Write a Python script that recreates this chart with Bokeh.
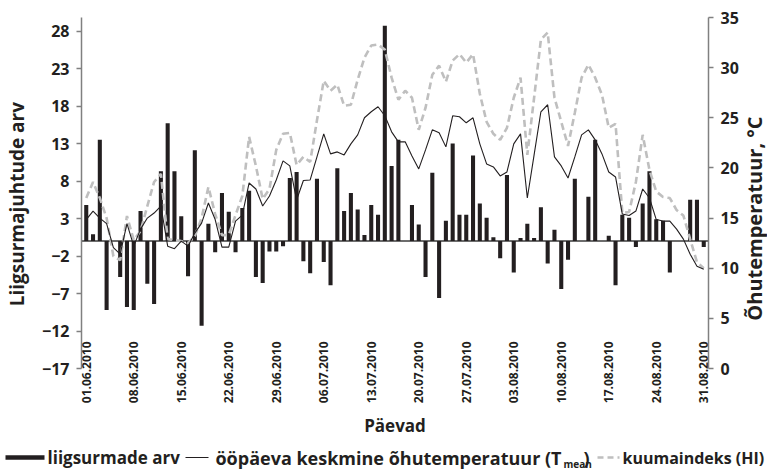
import math
import pandas as pd
from bokeh.plotting import figure
from bokeh.models import Range1d, LinearAxis, FixedTicker, Span
from bokeh.layouts import column, row
from bokeh.embed import file_html
from bokeh.resources import INLINE
from bokeh.core.properties import value

# ---------------- data ----------------
days = [d.strftime("%d.%m.%Y") for d in pd.date_range("2010-06-01", "2010-08-31", freq="D")]

excess_deaths = [
    4.8, 0.9, 13.5, -9.2, 0.0, -4.8, -8.8, -9.2, 4.0, -5.7,
    -8.4, 9.3, 15.7, 9.3, 3.3, -4.7, 12.1, -11.3, 2.3, -1.5,
    6.4, 3.9, -1.5, 4.4, 6.7, -4.8, -5.6, -1.4, -1.4, -0.7,
    8.4, 9.2, -2.7, -4.3, 8.3, -2.8, -5.9, 9.7, 4.0, 6.4,
    4.2, 0.8, 4.8, 3.5, 28.7, 10.0, 13.5, 0.0, 4.8, 2.2,
    -4.8, 9.1, -7.6, 2.7, 13.0, 3.5, 3.5, 11.4, 5.0, 3.1,
    0.5, -2.3, 8.8, -4.2, 0.4, 2.3, 0.4, 4.5, -3.0, 1.5,
    -6.4, -2.5, 8.3, 0.0, 5.9, 13.5, 0.0, 0.7, -5.9, 3.5,
    3.1, -0.8, 5.0, 9.3, 2.9, 2.7, -4.2, 0.0, 0.0, 5.5,
    5.5, -0.8,
]

t_mean = [
    14.85, 15.7, 15.0, 14.45, 12.05, 11.4, 14.45, 12.2, 13.9, 15.0,
    15.5, 16.2, 12.2, 11.95, 12.7, 12.2, 13.5, 14.5, 16.5, 14.85,
    12.1, 12.1, 14.7, 15.3, 18.5, 17.9, 16.2, 17.2, 18.8, 20.7,
    20.2, 16.8, 18.75, 18.8, 21.1, 23.4, 21.4, 21.6, 21.3, 22.4,
    23.3, 25.0, 25.6, 26.1, 25.2, 23.6, 22.6, 22.6, 21.2, 19.9,
    21.8, 23.8, 23.5, 22.1, 25.2, 25.1, 24.5, 25.0, 22.4, 20.4,
    20.1, 19.2, 19.6, 22.4, 23.4, 17.0, 21.3, 25.6, 26.3, 21.1,
    20.2, 19.0, 21.1, 23.3, 23.8, 22.8, 21.4, 19.6, 19.1, 15.4,
    15.25, 15.7, 17.9, 17.0, 14.85, 14.7, 14.7, 13.9, 12.9, 11.4,
    10.2, 9.9,
]

heat_index = [
    17.0, 18.6, 17.0, 15.0, 11.2, 10.8, 15.2, 12.8, 13.7, 16.2,
    18.6, 19.4, 12.9, 12.8, 12.7, 12.5, 13.2, 15.0, 18.1, 15.4,
    13.3, 13.3, 15.3, 17.2, 23.1, 20.2, 16.9, 17.9, 21.8, 23.4,
    23.5, 20.3, 21.1, 20.6, 24.75, 28.7, 27.7, 28.3, 26.2, 26.3,
    28.8, 31.0, 32.2, 32.3, 31.8, 29.0, 26.8, 27.7, 27.0, 23.8,
    26.0, 29.3, 30.2, 28.6, 30.7, 31.35, 30.5, 31.35, 27.4, 24.6,
    23.4, 22.8, 24.0, 27.0, 29.0, 21.3, 27.0, 32.8, 33.5, 27.0,
    24.6, 22.2, 25.5, 29.0, 30.3, 29.0, 27.3, 24.0, 24.4, 15.5,
    15.6, 18.6, 23.3, 19.8, 17.65, 17.1, 17.0, 15.8, 15.25, 12.9,
    10.6, 10.0,
]

left_ticks = [-17, -12, -7, -2, 3, 8, 13, 18, 23, 28]
right_ticks = [0, 5, 10, 15, 20, 25, 30, 35]
date_tick_idx = list(range(0, 92, 7))
date_tick_labels = [days[i] for i in date_tick_idx]

left_title = "Liigsurmajuhtude arv"
right_title = "Õhutemperatuur, °C"
x_title = "Päevad"
legend_labels = ["liigsurmade arv", "ööpäeva keskmine õhutemperatuur (T", "mean", ")", "kuumaindeks (HI)"]

# ---------------- styles ----------------
FONT = "Open Sans"
INK = "#231f20"
AXIS_GREY = "#808080"
HI_GREY = "#bfbfbf"
LT_W, MAIN_W, TF_W, MAIN_H = 34, 707, 26, 440

idx = list(range(len(days)))

def strip(w, h):
    f = figure(width=w, height=h, x_range=Range1d(0, w), y_range=Range1d(0, h),
               output_backend="svg", toolbar_location=None,
               x_axis_type=None, y_axis_type=None, min_border=0)
    f.outline_line_color = None
    f.xgrid.visible = False
    f.ygrid.visible = False
    return f

p = figure(width=MAIN_W, height=MAIN_H,
           x_range=Range1d(-0.7, 91.7), y_range=Range1d(-17, 29.8),
           output_backend="svg", toolbar_location=None,
           min_border_left=47, min_border_right=32,
           min_border_top=17, min_border_bottom=70)
p.extra_y_ranges = {"temp": Range1d(0, 35)}
p.outline_line_color = None
p.xgrid.visible = False
p.ygrid.visible = False

p.add_layout(Span(location=0, dimension="width", line_color="#3c3c3c", line_width=1.5, level="underlay"))

p.vbar(x=idx, top=excess_deaths, bottom=0, width=0.6, fill_color=INK, line_color=None)
p.line(idx, heat_index, y_range_name="temp", line_color=HI_GREY, line_width=2.6, line_dash="7 4")
p.line(idx, t_mean, y_range_name="temp", line_color=INK, line_width=1.1)

def style_axis(ax):
    ax.axis_line_color = AXIS_GREY
    ax.axis_line_width = 1.5
    ax.major_tick_line_color = AXIS_GREY
    ax.major_tick_line_width = 1.5
    ax.major_tick_out = 5
    ax.major_tick_in = 0
    ax.minor_tick_line_color = None
    ax.major_label_text_font = FONT
    ax.major_label_text_font_style = "bold"
    ax.major_label_text_font_size = "16px"
    ax.major_label_text_color = INK

ly = p.yaxis[0]
ly.ticker = FixedTicker(ticks=left_ticks)
style_axis(ly)
ly.major_label_standoff = 7

ry = LinearAxis(y_range_name="temp", ticker=FixedTicker(ticks=right_ticks))
style_axis(ry)
ry.major_label_standoff = 7
p.add_layout(ry, "right")

xa = p.xaxis[0]
xa.ticker = FixedTicker(ticks=date_tick_idx)
xa.major_label_overrides = {i: lab for i, lab in zip(date_tick_idx, date_tick_labels)}
xa.major_label_orientation = math.pi / 2
xa.axis_line_color = None
xa.major_tick_line_color = None
xa.minor_tick_line_color = None
xa.major_tick_out = 0
xa.major_label_standoff = -27
xa.major_label_text_font = FONT
xa.major_label_text_font_style = "bold"
xa.major_label_text_font_size = "12px"
xa.major_label_text_color = INK
xa.axis_label = x_title
xa.axis_label_text_font = FONT
xa.axis_label_text_font_style = "bold"
xa.axis_label_text_font_size = "17px"
xa.axis_label_text_color = INK
xa.axis_label_standoff = 8

title_style = dict(text_font=value(FONT), text_font_style="bold",
                   text_color=INK, text_align="center", text_baseline="middle")

# left title strip
lt = strip(LT_W, MAIN_H)
lt.text(x=[16.5], y=[206], text=[left_title], angle=math.pi / 2,
        text_font_size="19px", **title_style)

# right title strip
tf = strip(TF_W, MAIN_H)
tf.text(x=[12.5], y=[188], text=[right_title], angle=math.pi / 2,
        text_font_size="20px", **title_style)

# ---------------- legend strip ----------------
LG_W, LG_H = LT_W + MAIN_W + TF_W, 34
lg = strip(LG_W, LG_H)
ym = 17
lg.line([5, 44], [ym, ym], line_color=INK, line_width=4.5)
lg.line([185, 208], [ym, ym], line_color=INK, line_width=1.1)
lg.line([597, 619], [ym, ym], line_color=HI_GREY, line_width=2.6, line_dash="6 4")

common = dict(text_font=value(FONT), text_font_style="bold", text_color=INK, text_baseline="middle")
lg.text(x=[47], y=[ym], text=[legend_labels[0]], text_font_size="17px", text_align="left", **common)
lg.text(x=[561], y=[ym], text=[legend_labels[1]], text_font_size="18px", text_align="right", **common)
lg.text(x=[563], y=[ym - 6], text=[legend_labels[2]], text_font_size="10px", text_align="left", **common)
lg.text(x=[583], y=[ym], text=[legend_labels[3]], text_font_size="18px", text_align="left", **common)
lg.text(x=[622], y=[ym], text=[legend_labels[4]], text_font_size="16px", text_align="left", **common)

layout = column(row(lt, p, tf, spacing=0), lg, spacing=0)
open("out.html", "w").write(file_html(layout, INLINE))
